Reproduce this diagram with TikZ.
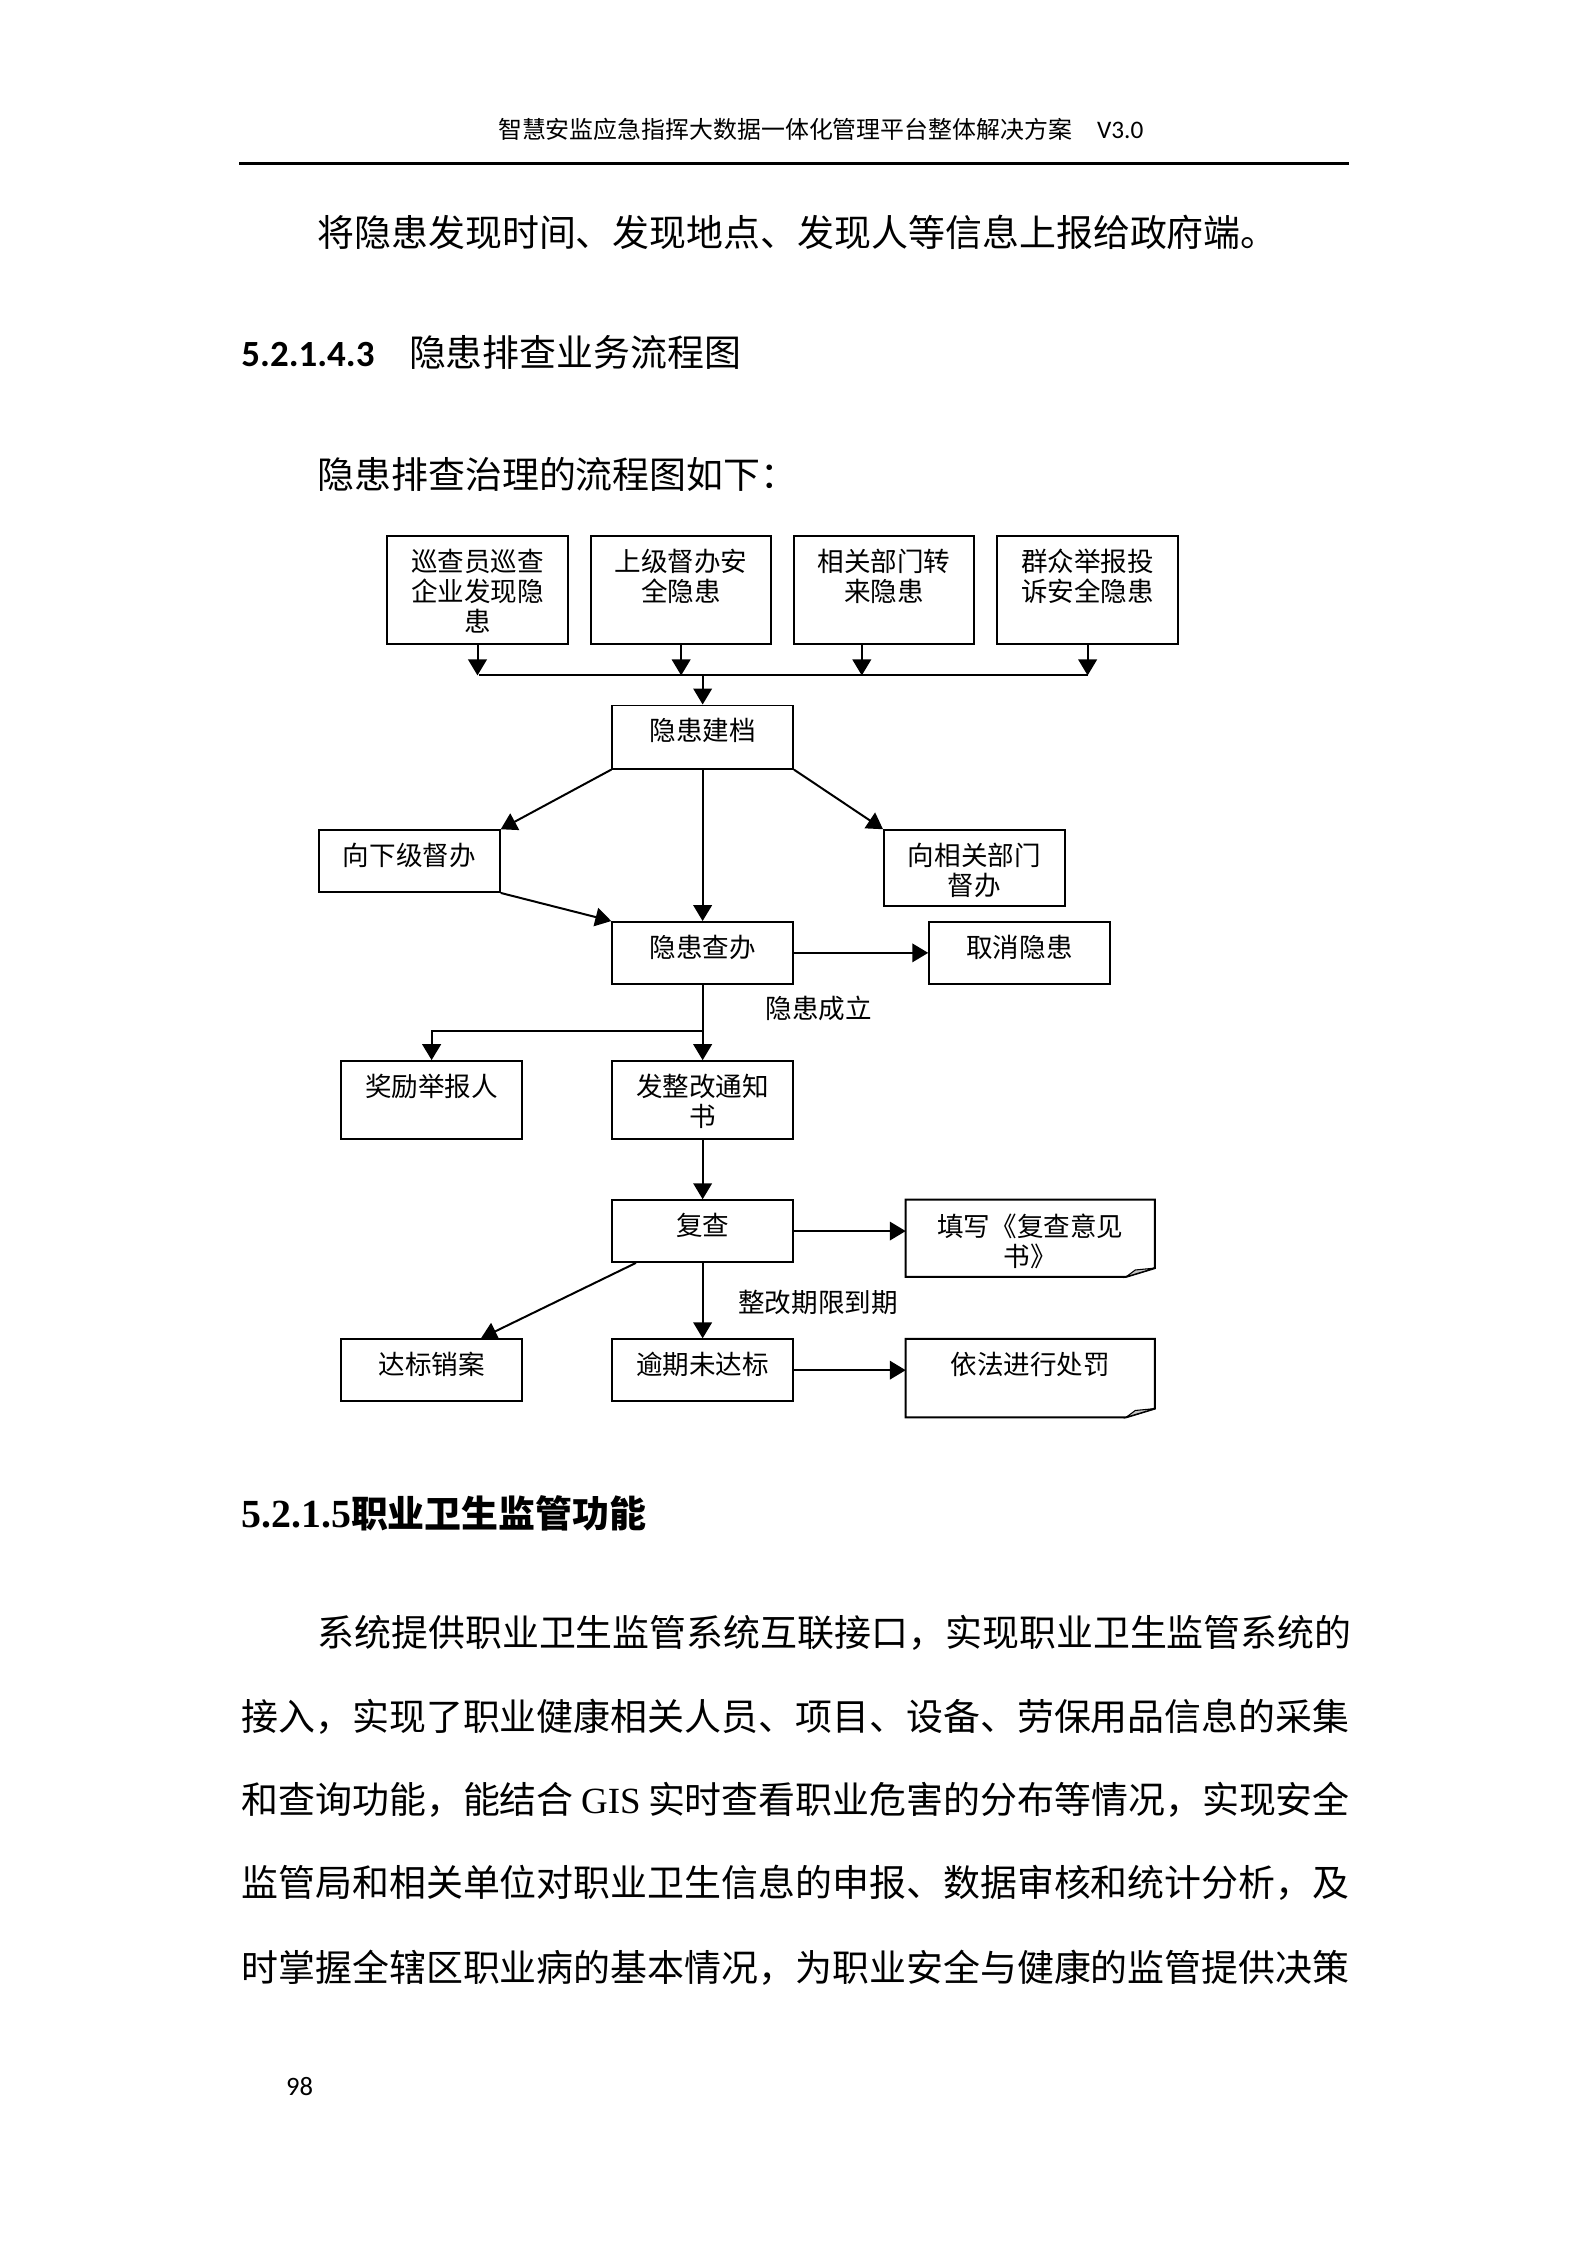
\documentclass[tikz,border=0pt]{standalone}
\usepackage{fontspec}
\setmainfont{Noto Sans CJK SC}
\newfontfamily\calfont{Carlito}
\newfontfamily\timesfont{Liberation Serif}
\usepackage{tikz}
\usetikzlibrary{arrows.meta,calc}
\tikzstyle{line} = [draw, line width=0.75pt, -{Triangle[length=6pt,width=7pt]}]
\tikzstyle{plain} = [draw, line width=0.75pt]
\tikzstyle{box} = [draw, line width=0.75pt, minimum width=2.39cm, inner sep=0pt]
\tikzstyle{doc} = [minimum width=3.282cm, inner sep=0pt]
\tikzstyle{lbl} = [anchor=north, yshift=-5pt, inner sep=0pt, align=center, font=\fontsize{10}{11.3}\selectfont]
\tikzstyle{note} = [inner sep=0pt, font=\fontsize{10}{11.3}\selectfont]
\tikzstyle{body} = [anchor=west, inner sep=0pt, font=\fontsize{13.9}{16}\selectfont]

\begin{document}
\begin{tikzpicture}[x=0.01897cm, y=-0.01897cm]
    \useasboundingbox (0,0) rectangle (1107,1565.6);
    % page head
    \node[anchor=west, inner sep=0pt, font=\fontsize{9}{10}\selectfont] (head) at (347,90) {智慧安监应急指挥大数据一体化管理平台整体解决方案\hspace{0.33cm}{\calfont\fontsize{9.5}{10}\selectfont V3.0}};
    \draw[line width=0.8pt] (167,114) -- (941,114);
    \node[body] (t1) at (221,162) {将隐患发现时间、发现地点、发现人等信息上报给政府端。};
    \node[body] (h1) at (168,246) {{\calfont\bfseries 5.2.1.4.3}\hspace{13pt}隐患排查业务流程图};
    \node[body] (t2) at (221,331) {隐患排查治理的流程图如下：};
    % sources
    \node[box, minimum height=1.423cm, label={[lbl]north:巡查员巡查\\企业发现隐\\患}] (b1) at (333,411.5) {};
    \node[box, minimum height=1.423cm, label={[lbl]north:上级督办安\\全隐患}] (b2) at (475,411.5) {};
    \node[box, minimum height=1.423cm, label={[lbl]north:相关部门转\\来隐患}] (b3) at (616.5,411.5) {};
    \node[box, minimum height=1.423cm, label={[lbl]north:群众举报投\\诉安全隐患}] (b4) at (758.5,411.5) {};
    \coordinate (j1) at (334,471);
    \coordinate (j2) at (475,471);
    \coordinate (j3) at (601,471);
    \coordinate (j4) at (759,471);
    \coordinate (jm) at (490,471);
    % steps
    \node[box, minimum height=0.835cm, label={[lbl]north:隐患建档}] (jd) at (490,514) {};
    \node[box, minimum height=0.816cm, label={[lbl]north:向下级督办}] (xj) at (285.5,600.5) {};
    \node[box, minimum height=1.006cm, label={[lbl]north:向相关部门\\督办}] (xg) at (679.5,605.5) {};
    \node[box, minimum height=0.816cm, label={[lbl]north:隐患查办}] (cb) at (490,664.5) {};
    \node[box, minimum height=0.816cm, label={[lbl]north:取消隐患}] (qx) at (711,664.5) {};
    \node[note] (cl) at (571,703) {隐患成立};
    \coordinate (br) at (490,719);
    \node[box, minimum height=1.024cm, label={[lbl]north:奖励举报人}] (jl) at (301,767) {};
    \node[box, minimum height=1.024cm, label={[lbl]north:发整改通知\\书}] (tz) at (490,767) {};
    \node[box, minimum height=0.816cm, label={[lbl]north:复查}] (fc) at (490,858.5) {};
    \node[doc, minimum height=1.006cm, label={[lbl]north:填写《复查意见\\书》}] (tx) at (718.5,863.5) {};
    \node[note] (zq) at (570.5,908) {整改期限到期};
    \node[box, minimum height=0.816cm, label={[lbl]north:达标销案}] (db) at (301,955.5) {};
    \node[box, minimum height=0.816cm, label={[lbl]north:逾期未达标}] (yq) at (490,955.5) {};
    \node[doc, minimum height=1.024cm, label={[lbl]north:依法进行处罚}] (yf) at (718.5,961) {};
    \foreach \n in {tx,yf} {
        \draw[line width=0.75pt] (\n.north west) -- (\n.north east) -- ([yshift=0.115cm]\n.south east) -- ([xshift=-0.38cm]\n.south east) -- (\n.south west) -- cycle;
        \filldraw[fill=gray!45, line width=0.4pt] ([xshift=-0.38cm]\n.south east) -- ([yshift=0.115cm]\n.south east) -- ([xshift=-0.26cm,yshift=0.09cm]\n.south east) -- cycle;
    }
    % connectors
    \path [line] (b1.south) -- (b1.south |- j1);
    \path [line] (b2.south) -- (j2);
    \path [line] (j3 |- b3.south) -- (j3);
    \path [line] (b4.south) -- (b4.south |- j4);
    \path [plain] (j1) -- (j4);
    \path [line] (jm) -- (jd.north);
    \path [line] (jd.south west) -- (xj.north east);
    \path [line] (jd.south east) -- (xg.north west);
    \path [line] (jd.south) -- (cb.north);
    \path [line] (xj.south east) -- (cb.north west);
    \path [line] (cb.east) -- (qx.west);
    \path [plain] (cb.south) -- (br);
    \path [line] (br) -- (tz.north);
    \path [line] (br) -| (jl.north);
    \path [line] (tz.south) -- (fc.north);
    \path [line] (fc.east) -- (fc.east -| tx.west);
    \path [line] (fc.south) -- (yq.north);
    \path [line] ($(fc.south west)!0.135!(fc.south east)$) -- ($(db.north west)!0.77!(db.north east)$);
    \path [line] (yq.east) -- (yq.east -| yf.west);
    % next section
    \node[body] (h2) at (168,1055) {{\timesfont\bfseries\fontsize{15}{16}\selectfont 5.2.1.5}\bfseries 职业卫生监管功能};
    \node[body] (p1) at (221,1139) {系统提供职业卫生监管系统互联接口，实现职业卫生监管系统的};
    \node[body] (p2) at (168,1197) {接入，实现了职业健康相关人员、项目、设备、劳保用品信息的采集};
    \node[body] (p3) at (168,1255) {\makebox[14.66cm][l]{和查询功能，能结合\hfill{\timesfont GIS}\hfill 实时查看职业危害的分布等情况，实现安全}};
    \node[body] (p4) at (168,1313) {监管局和相关单位对职业卫生信息的申报、数据审核和统计分析，及};
    \node[body] (p5) at (168,1372) {时掌握全辖区职业病的基本情况，为职业安全与健康的监管提供决策};
    \node[inner sep=0pt, font=\calfont\fontsize{10}{12}\selectfont] (pg) at (209,1455) {98};
\end{tikzpicture}
\end{document}
